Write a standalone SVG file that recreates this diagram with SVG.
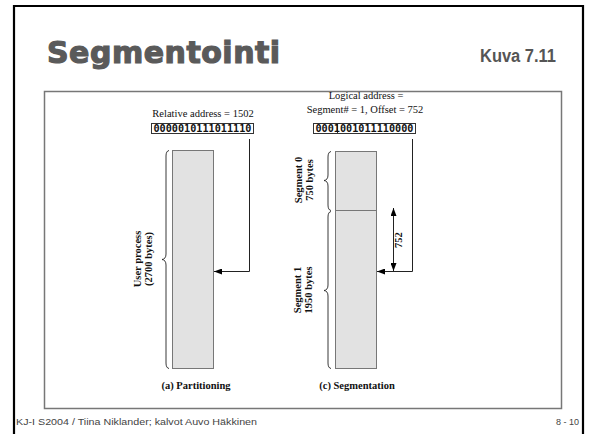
<svg xmlns="http://www.w3.org/2000/svg" width="591" height="434" viewBox="0 0 591 434">
  <defs>
    <marker id="head" viewBox="0 0 8 6" refX="8" refY="3" markerWidth="8" markerHeight="6" markerUnits="userSpaceOnUse" orient="auto">
      <path d="M0,0 L8,3 L0,6 Z" fill="#000"/>
    </marker>
    <style>
      .title { font-family: "DejaVu Sans", "Liberation Sans", sans-serif; font-weight: bold; font-size: 30px; letter-spacing: 0.5px; fill: #5a5a5a; stroke: #5a5a5a; stroke-width: 1.2; }
      .kuva { font-family: "Liberation Sans", Arial, sans-serif; font-weight: bold; font-size: 18px; fill: #555; }
      .lbl { font-family: "Liberation Serif", "Times New Roman", serif; font-size: 10.5px; fill: #111; }
      .blbl { font-family: "Liberation Serif", "Times New Roman", serif; font-size: 10.5px; font-weight: bold; fill: #111; }
      .bin { font-family: "DejaVu Sans Mono", "Liberation Mono", monospace; font-size: 10.3px; font-weight: bold; fill: #111; }
      .binbox { fill: #fff; stroke: #333; stroke-width: 1; }
      .mem { fill: #e2e2e2; stroke: #777; stroke-width: 1; }
      .brace { fill: none; stroke: #222; stroke-width: 0.9; }
      .wire { fill: none; stroke: #222; stroke-width: 1; }
      .foot { font-family: "Liberation Sans", Arial, sans-serif; font-size: 9px; fill: #444; }
    </style>
  </defs>

  <rect width="591" height="434" fill="#fff"/>
  <!-- slide frame -->
  <path d="M14,440 V6 H583 V440" fill="none" stroke="#000" stroke-width="2.2"/>

  <text class="title" x="47" y="63">Segmentointi</text>
  <text class="kuva" x="480" y="62" textLength="76" lengthAdjust="spacingAndGlyphs">Kuva 7.11</text>

  <!-- figure panel -->
  <rect x="44.5" y="91.5" width="517" height="317" fill="#fff" stroke="#777" stroke-width="1.5"/>

  <!-- (a) Partitioning -->
  <g id="relative-address">
    <text class="lbl" x="203" y="117" text-anchor="middle">Relative address = 1502</text>
    <rect class="binbox" x="151.5" y="123.5" width="102" height="10"/>
    <text class="bin" x="202.5" y="132" text-anchor="middle" textLength="98" lengthAdjust="spacingAndGlyphs">0000010111011110</text>
  </g>
  <g id="user-process">
    <rect class="mem" x="172.5" y="150.5" width="41" height="218"/>
    <path class="brace" d="M169,150.5 Q166,151 166,156 L166,254 Q166,259 162,259.5 Q166,260 166,265 L166,363 Q166,368 169,368.5"/>
    <text class="blbl" transform="translate(141,259) rotate(-90)" text-anchor="middle">User process</text>
    <text class="blbl" transform="translate(152,259) rotate(-90)" text-anchor="middle">(2700 bytes)</text>
  </g>
  <text id="caption-a" class="blbl" x="196" y="389" text-anchor="middle">(a) Partitioning</text>

  <!-- (c) Segmentation -->
  <g id="logical-address">
    <text class="lbl" x="366" y="99" text-anchor="middle">Logical address =</text>
    <text class="lbl" x="365" y="113" text-anchor="middle">Segment# = 1, Offset = 752</text>
    <rect class="binbox" x="313.5" y="123.5" width="102" height="10"/>
    <line x1="337.5" y1="123.5" x2="337.5" y2="133.5" stroke="#333" stroke-width="1"/>
    <text class="bin" x="364.5" y="132" text-anchor="middle" textLength="98" lengthAdjust="spacingAndGlyphs">0001001011110000</text>
  </g>
  <g id="segment-0">
    <rect class="mem" x="335.5" y="151.5" width="41" height="59"/>
    <path class="brace" d="M331,151.5 Q328,152 328,157 L328,175 Q328,180 324,180.5 Q328,181 328,186 L328,205 Q328,210 331,210.5"/>
    <text class="blbl" transform="translate(302,180) rotate(-90)" text-anchor="middle">Segment 0</text>
    <text class="blbl" transform="translate(313,180) rotate(-90)" text-anchor="middle">750 bytes</text>
  </g>
  <g id="segment-1">
    <rect class="mem" x="335.5" y="210.5" width="41" height="158"/>
    <path class="brace" d="M331,211.5 Q328,212 328,217 L328,285 Q328,290 324,290.5 Q328,291 328,296 L328,363 Q328,368 331,368.5"/>
    <text class="blbl" transform="translate(301,290) rotate(-90)" text-anchor="middle">Segment 1</text>
    <text class="blbl" transform="translate(312,290) rotate(-90)" text-anchor="middle">1950 bytes</text>
  </g>
  <text id="caption-c" class="blbl" x="357" y="389" text-anchor="middle">(c) Segmentation</text>

  <!-- connectors -->
  <g id="connectors">
    <path class="wire" d="M249.5,139 V271.5 H214" marker-end="url(#head)"/>
    <path class="wire" d="M412.5,139 V271.5 H377" marker-end="url(#head)"/>
    <line class="wire" x1="393.5" y1="240" x2="393.5" y2="208" marker-end="url(#head)"/>
    <line class="wire" x1="393.5" y1="240" x2="393.5" y2="271" marker-end="url(#head)"/>
    <text class="blbl" transform="translate(402,240) rotate(-90)" text-anchor="middle">752</text>
  </g>

  <!-- footer -->
  <text class="foot" x="16" y="425" textLength="241" lengthAdjust="spacingAndGlyphs">KJ-I S2004 / Tiina Niklander; kalvot Auvo Häkkinen</text>
  <text class="foot" x="579" y="425" text-anchor="end">8 - 10</text>
</svg>
